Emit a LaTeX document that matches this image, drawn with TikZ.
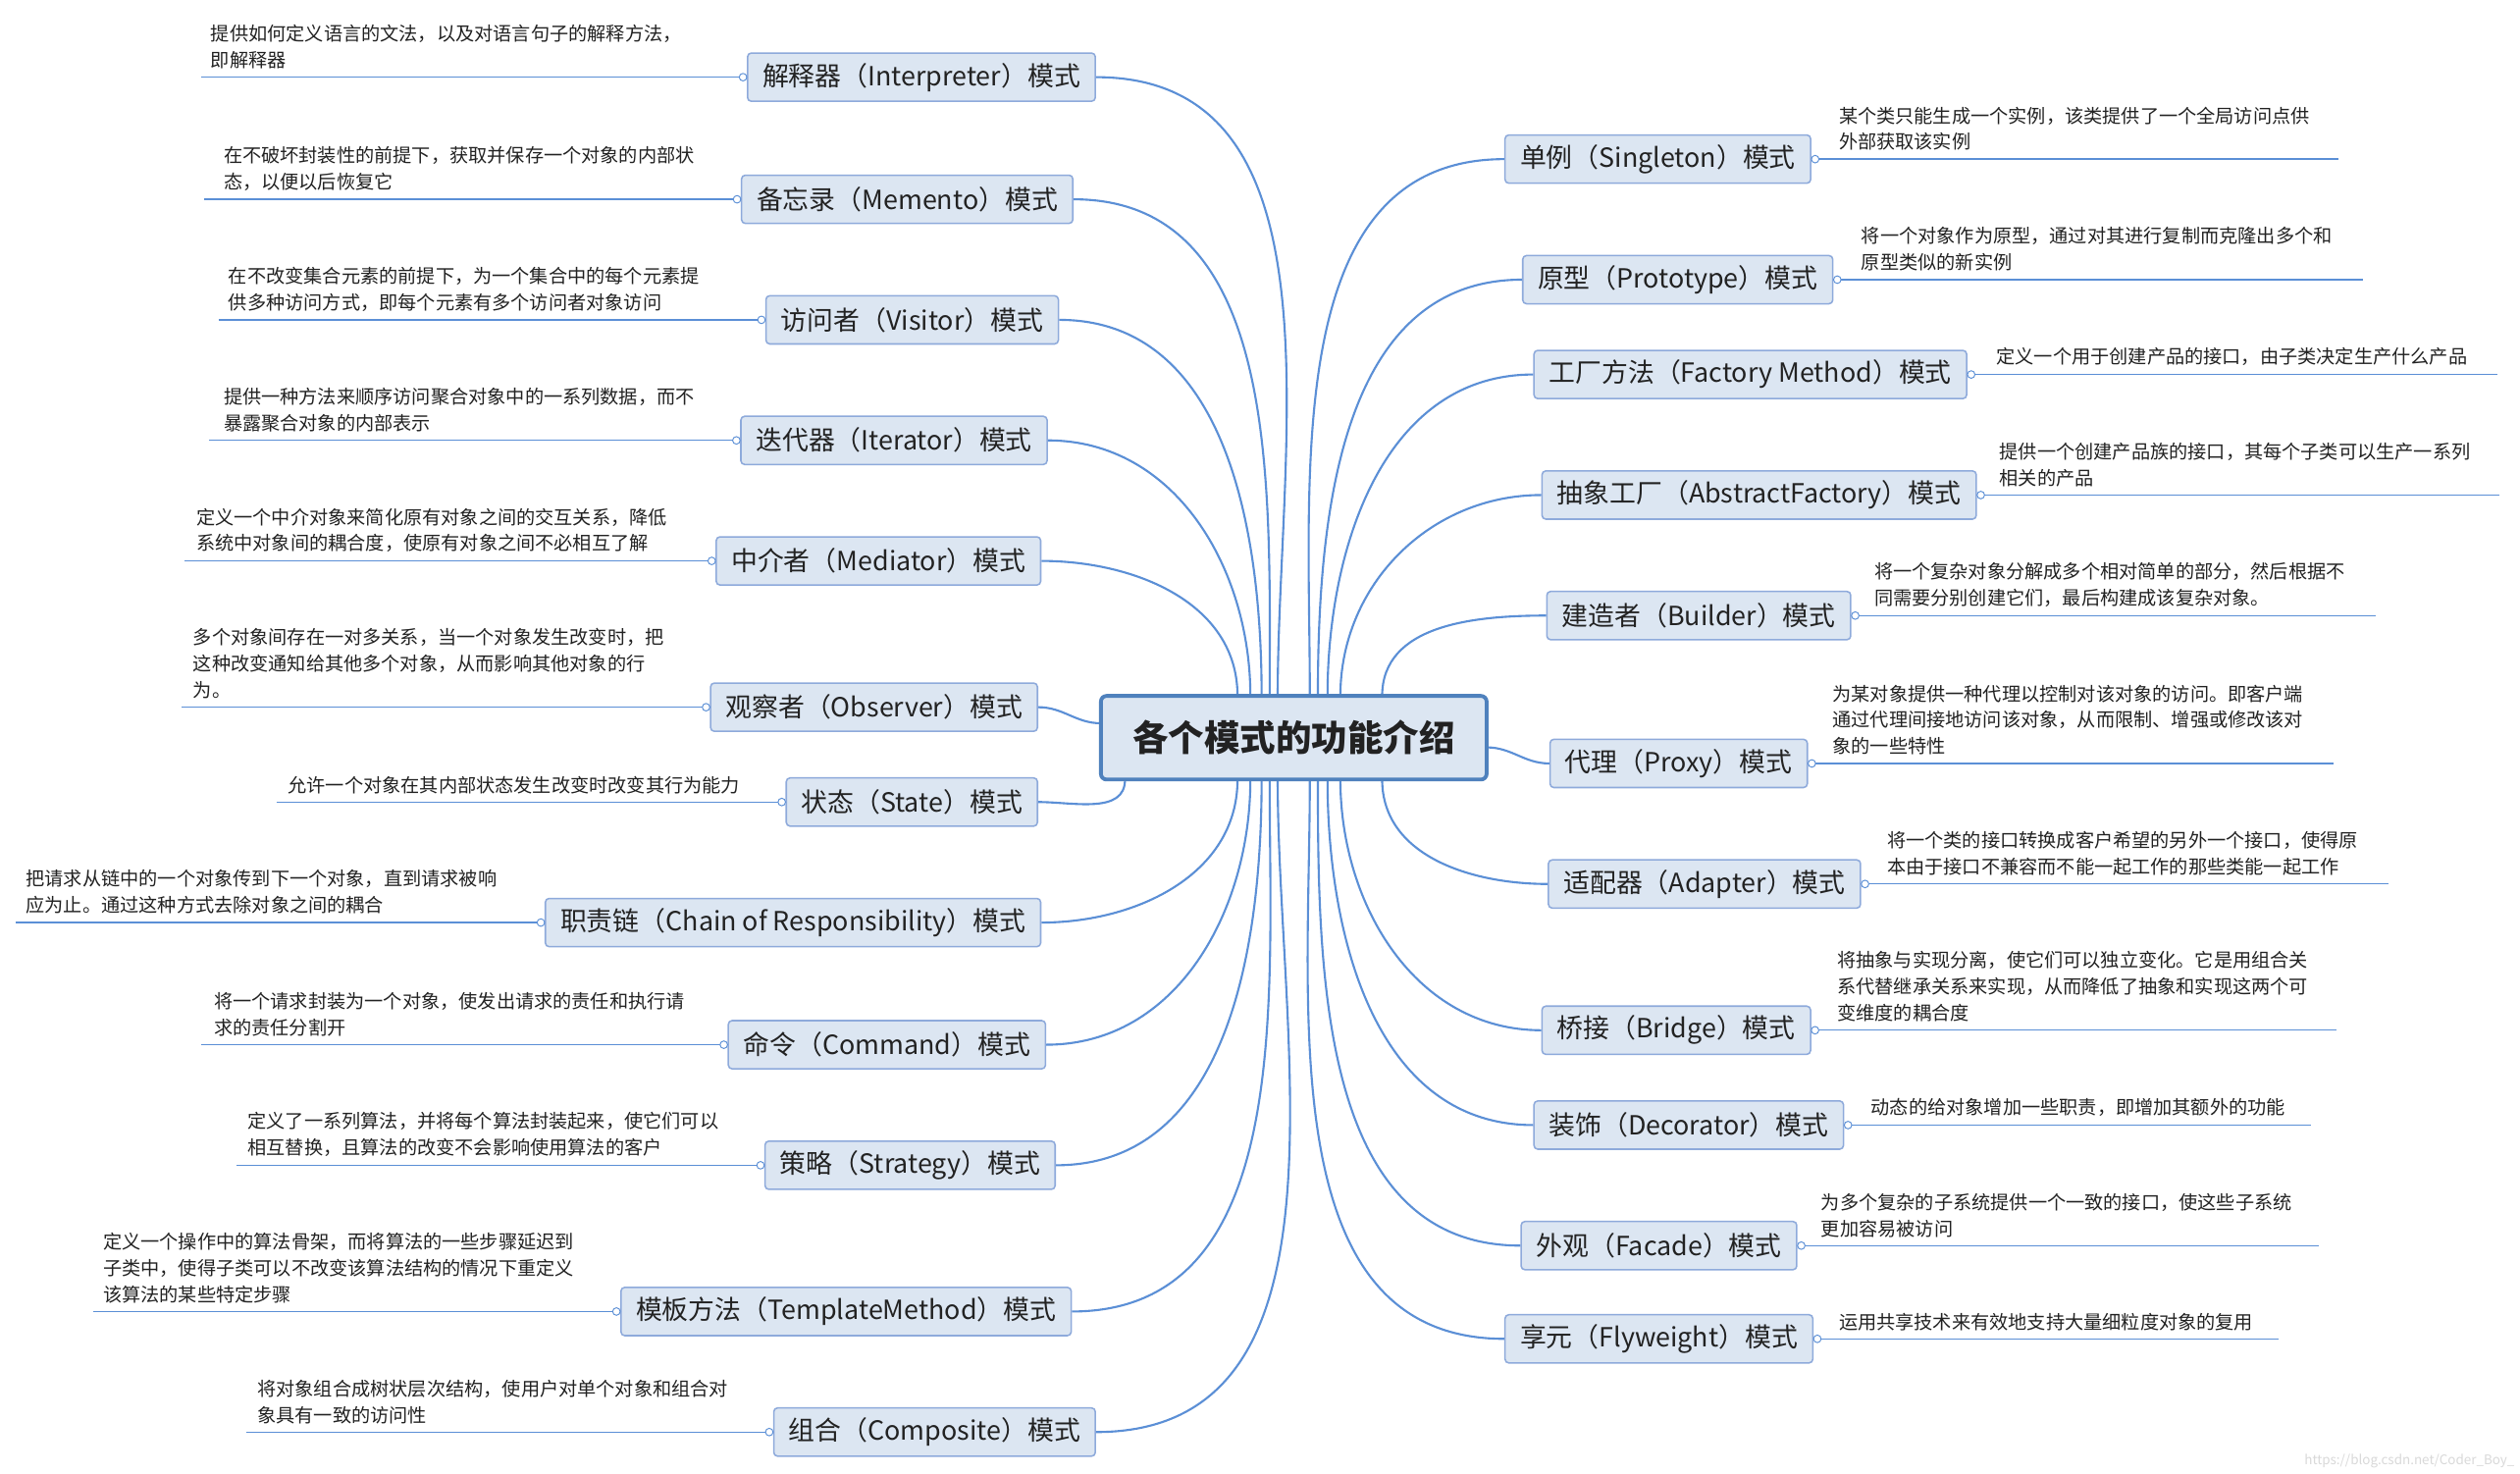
\documentclass[tikz,border=0pt]{standalone}
\usepackage{fontspec}
\setmainfont{Noto Sans CJK SC}
\definecolor{bfill}{HTML}{DCE6F2}
\definecolor{bdraw}{HTML}{8EAADB}
\definecolor{cdraw}{HTML}{4F81BD}
\definecolor{lcol}{HTML}{5B8FD6}
\definecolor{tcol}{HTML}{222222}
\tikzset{
  x=0.03cm,y=-0.03cm,
  box/.style={draw=bdraw,fill=bfill,rounded corners=2pt,line width=0.8pt,minimum height=30*0.03cm,inner xsep=8pt,font=\fontsize{14}{16}\selectfont,text=tcol},
  desc/.style={align=left,font=\fontsize{10}{14}\selectfont,text=tcol,inner sep=0pt},
  ul/.style={draw=lcol,line width=0.7pt},
  conn/.style={draw=lcol,line width=1.1pt},
  dot/.style={circle,draw=lcol,fill=white,inner sep=0pt,minimum size=4pt,line width=0.5pt}
}
% name, anchor-x, y, label, descx, desc, lineleft, startx, starty
\newcommand\Lm[9]{%
  \node[box,anchor=east] (#1) at (#2,#3) {#4};
  \draw[ul] (#7,#3) -- (#1.west);
  \node[dot] at ([xshift=-2pt]#1.west) {};
  \node[desc,anchor=south west] at (#5,#3-5) {#6};
  \draw[conn] (#8,#9) to[out=\myout,in=0] (#1.east);
}
\newcommand\Rm[9]{%
  \node[box,anchor=west] (#1) at (#2,#3) {#4};
  \draw[ul] (#1.east) -- (#7,#3);
  \node[dot] at ([xshift=2pt]#1.east) {};
  \node[desc,anchor=south west] at (#5,#3-5) {#6};
  \draw[conn] (#8,#9) to[out=\myout,in=180] (#1.west);
}
\begin{document}
\begin{tikzpicture}
\useasboundingbox[fill=white] (0,0) rectangle (1568,917);
\def\myout{90}
\Lm{a1}{682}{48}{解释器（Interpreter）模式}{131}{提供如何定义语言的文法，以及对语言句子的解释方法，\\即解释器}{125}{795}{433}
\Lm{a2}{668}{124}{备忘录（Memento）模式}{139}{在不破坏封装性的前提下，获取并保存一个对象的内部状\\态，以便以后恢复它}{127}{790}{433}
\Lm{a3}{659}{199}{访问者（Visitor）模式}{142}{在不改变集合元素的前提下，为一个集合中的每个元素提\\供多种访问方式，即每个元素有多个访问者对象访问}{136}{785}{433}
\Lm{a4}{652}{274}{迭代器（Iterator）模式}{139}{提供一种方法来顺序访问聚合对象中的一系列数据，而不\\暴露聚合对象的内部表示}{130}{778}{433}
\Lm{a5}{648}{349}{中介者（Mediator）模式}{122}{定义一个中介对象来简化原有对象之间的交互关系，降低\\系统中对象间的耦合度，使原有对象之间不必相互了解}{115}{770}{433}
\def\myout{180}
\Lm{a6}{646}{440}{观察者（Observer）模式}{120}{多个对象间存在一对多关系，当一个对象发生改变时，把\\这种改变通知给其他多个对象，从而影响其他对象的行\\为。}{113}{685}{450}
\def\myout{-90}
\Lm{a7}{646}{499}{状态（State）模式}{179}{允许一个对象在其内部状态发生改变时改变其行为能力}{172}{700}{485}
\Lm{a8}{648}{574}{职责链（Chain of Responsibility）模式}{16}{把请求从链中的一个对象传到下一个对象，直到请求被响\\应为止。通过这种方式去除对象之间的耦合}{10}{770}{485}
\Lm{a9}{651}{650}{命令（Command）模式}{133}{将一个请求封装为一个对象，使发出请求的责任和执行请\\求的责任分割开}{125}{778}{485}
\Lm{a10}{657}{725}{策略（Strategy）模式}{154}{定义了一系列算法，并将每个算法封装起来，使它们可以\\相互替换，且算法的改变不会影响使用算法的客户}{147}{785}{485}
\Lm{a11}{667}{816}{模板方法（TemplateMethod）模式}{64}{定义一个操作中的算法骨架，而将算法的一些步骤延迟到\\子类中，使得子类可以不改变该算法结构的情况下重定义\\该算法的某些特定步骤}{58}{790}{485}
\Lm{a12}{682}{891}{组合（Composite）模式}{160}{将对象组合成树状层次结构，使用户对单个对象和组合对\\象具有一致的访问性}{153}{795}{485}
\def\myout{90}
\Rm{b1}{936}{99}{单例（Singleton）模式}{1144}{某个类只能生成一个实例，该类提供了一个全局访问点供\\外部获取该实例}{1455}{815}{433}
\Rm{b2}{947}{174}{原型（Prototype）模式}{1158}{将一个对象作为原型，通过对其进行复制而克隆出多个和\\原型类似的新实例}{1470}{820}{433}
\Rm{b3}{954}{233}{工厂方法（Factory Method）模式}{1242}{定义一个用于创建产品的接口，由子类决定生产什么产品}{1554}{826}{433}
\Rm{b4}{959}{308}{抽象工厂（AbstractFactory）模式}{1244}{提供一个创建产品族的接口，其每个子类可以生产一系列\\相关的产品}{1555}{834}{433}
\Rm{b5}{962}{383}{建造者（Builder）模式}{1166}{将一个复杂对象分解成多个相对简单的部分，然后根据不\\同需要分别创建它们，最后构建成该复杂对象。}{1478}{860}{433}
\def\myout{0}
\Rm{b6}{964}{475}{代理（Proxy）模式}{1140}{为某对象提供一种代理以控制对该对象的访问。即客户端\\通过代理间接地访问该对象，从而限制、增强或修改该对\\象的一些特性}{1452}{925}{465}
\def\myout{-90}
\Rm{b7}{963}{550}{适配器（Adapter）模式}{1174}{将一个类的接口转换成客户希望的另外一个接口，使得原\\本由于接口不兼容而不能一起工作的那些类能一起工作}{1486}{860}{485}
\Rm{b8}{959}{641}{桥接（Bridge）模式}{1143}{将抽象与实现分离，使它们可以独立变化。它是用组合关\\系代替继承关系来实现，从而降低了抽象和实现这两个可\\变维度的耦合度}{1454}{834}{485}
\Rm{b9}{954}{700}{装饰（Decorator）模式}{1164}{动态的给对象增加一些职责，即增加其额外的功能}{1438}{826}{485}
\Rm{b10}{946}{775}{外观（Facade）模式}{1133}{为多个复杂的子系统提供一个一致的接口，使这些子系统\\更加容易被访问}{1443}{820}{485}
\Rm{b11}{936}{833}{享元（Flyweight）模式}{1144}{运用共享技术来有效地支持大量细粒度对象的复用}{1418}{815}{485}
\node[draw=cdraw,fill=bfill,rounded corners=3pt,line width=2pt,minimum width=240*0.03cm,minimum height=52*0.03cm,font=\fontsize{19}{22}\selectfont\bfseries,text=tcol] (c) at (805,459) {各个模式的功能介绍};
\node[anchor=south east,font=\fontsize{7}{8}\selectfont,text=black!15,inner sep=1pt] (wm) at (1566,915) {https://blog.csdn.net/Coder\_Boy\_};
\end{tikzpicture}
\end{document}
